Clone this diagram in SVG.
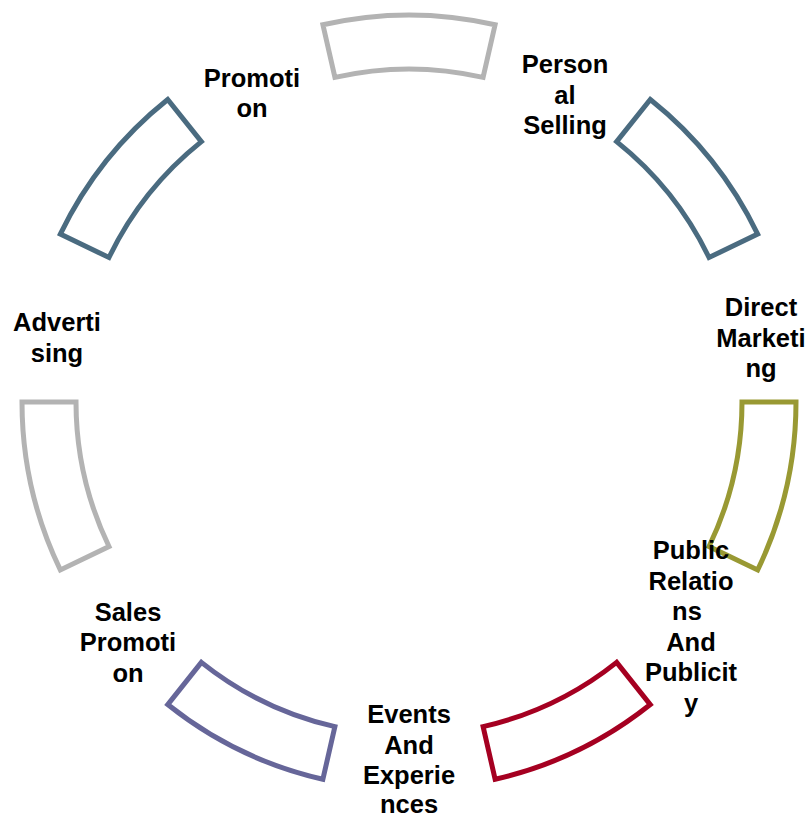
<svg xmlns="http://www.w3.org/2000/svg" width="810" height="819" viewBox="0 0 810 819">
  <style>
    .seg { fill: #ffffff; stroke-width: 5; stroke-linejoin: miter; }
    .lbl { font-family: "Liberation Sans", Arial, sans-serif; font-size: 25.5px; font-weight: bold; fill: #000000; text-anchor: middle; }
  </style>
  <defs>
    <path id="arcseg" d="M322.9,24.7 A387,387 0 0 1 495.1,24.7 L483.1,77.35 A333,333 0 0 0 334.9,77.35 Z"/>
  </defs>
  <rect width="810" height="819" fill="#ffffff"/>
  <g id="connectors">
    <use href="#arcseg" class="seg" stroke="#b3b3b3"/>
    <use href="#arcseg" class="seg" stroke="#4a6b80" transform="rotate(51.4286 409 402)"/>
    <use href="#arcseg" class="seg" stroke="#999933" transform="rotate(102.8571 409 402)"/>
    <use href="#arcseg" class="seg" stroke="#a50021" transform="rotate(154.2857 409 402)"/>
    <use href="#arcseg" class="seg" stroke="#666699" transform="rotate(205.7143 409 402)"/>
    <use href="#arcseg" class="seg" stroke="#b3b3b3" transform="rotate(257.1429 409 402)"/>
    <use href="#arcseg" class="seg" stroke="#4a6b80" transform="rotate(308.5714 409 402)"/>
  </g>
  <g id="node-promotion">
    <text class="lbl" x="252" y="86.5">Promoti</text>
    <text class="lbl" x="252" y="117">on</text>
  </g>
  <g id="node-personal-selling">
    <text class="lbl" x="565" y="73">Person</text>
    <text class="lbl" x="565" y="103.5">al</text>
    <text class="lbl" x="565" y="134">Selling</text>
  </g>
  <g id="node-direct-marketing">
    <text class="lbl" x="761" y="316">Direct</text>
    <text class="lbl" x="761" y="346.5">Marketi</text>
    <text class="lbl" x="761" y="377">ng</text>
  </g>
  <g id="node-public-relations">
    <text class="lbl" x="691" y="559">Public</text>
    <text class="lbl" x="691" y="589.5">Relatio</text>
    <text class="lbl" x="687" y="620">ns</text>
    <text class="lbl" x="691" y="650.5">And</text>
    <text class="lbl" x="691" y="681">Publicit</text>
    <text class="lbl" x="691" y="711.5">y</text>
  </g>
  <g id="node-events">
    <text class="lbl" x="409" y="723">Events</text>
    <text class="lbl" x="409" y="753.5">And</text>
    <text class="lbl" x="409" y="784">Experie</text>
    <text class="lbl" x="409" y="813">nces</text>
  </g>
  <g id="node-sales-promotion">
    <text class="lbl" x="128" y="620.5">Sales</text>
    <text class="lbl" x="128" y="651">Promoti</text>
    <text class="lbl" x="128" y="681.5">on</text>
  </g>
  <g id="node-advertising">
    <text class="lbl" x="57" y="331">Adverti</text>
    <text class="lbl" x="57" y="361.5">sing</text>
  </g>
</svg>
